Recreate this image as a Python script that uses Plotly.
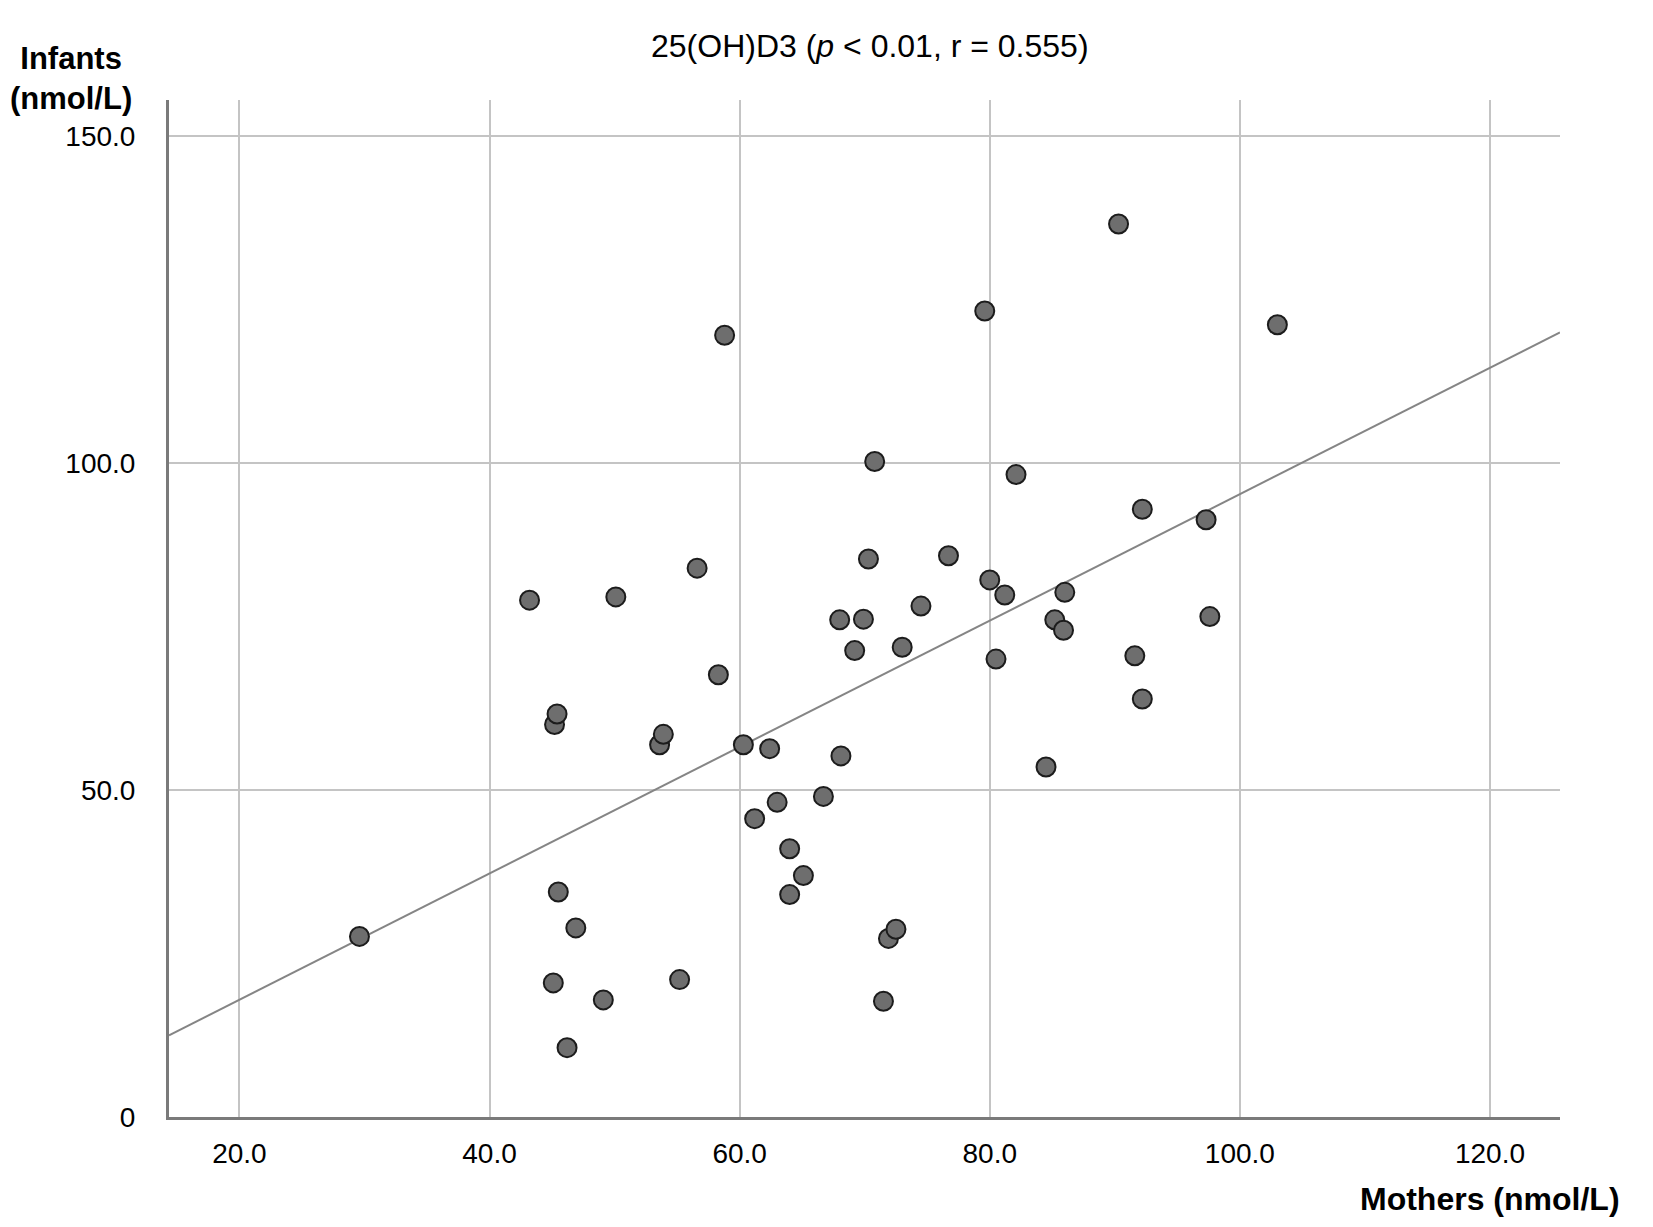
import plotly.graph_objects as go

# 25(OH)D3 values (nmol/L)
mothers = [29.6, 43.2, 45.2, 45.4, 45.5, 45.1, 46.2, 46.9, 49.1, 50.1,
           53.6, 53.9, 55.2, 56.6, 58.3, 58.8, 60.3, 61.2, 62.4, 63.0,
           64.0, 64.0, 65.1, 66.7, 68.0, 68.1, 69.2, 69.9, 70.3, 70.8,
           71.5, 71.9, 72.5, 73.0, 74.5, 76.7, 79.6, 80.0, 80.5, 81.2,
           82.1, 84.5, 85.2, 85.9, 86.0, 90.3, 91.6, 92.2, 92.2, 97.3,
           97.6, 103.0]
infants = [27.6, 79.0, 60.0, 61.6, 34.4, 20.5, 10.6, 28.9, 17.9, 79.5,
           56.9, 58.5, 21.0, 83.9, 67.6, 119.5, 56.9, 45.6, 56.3, 48.1,
           41.0, 34.0, 36.9, 49.0, 76.0, 55.2, 71.3, 76.1, 85.3, 100.2,
           17.7, 27.3, 28.7, 71.8, 78.1, 85.8, 123.2, 82.1, 70.0, 79.8,
           98.2, 53.5, 76.0, 74.4, 80.2, 136.5, 70.5, 92.9, 63.9, 91.3,
           76.5, 121.1]

# fit line as drawn in the picture
fit_intercept = -1.4
fit_slope = 0.966

x_ticks = [20, 40, 60, 80, 100, 120]
x_labels = ["20.0", "40.0", "60.0", "80.0", "100.0", "120.0"]
y_ticks = [0, 50, 100, 150]
y_labels = ["0", "50.0", "100.0", "150.0"]

x_range = [14.37, 125.6]
y_range = [0, 155.46]

FONT = "Liberation Sans, Arial, sans-serif"

fig = go.Figure()

fig.add_trace(go.Scatter(
    x=x_range,
    y=[fit_intercept + fit_slope * v for v in x_range],
    mode="lines",
    line=dict(color="#858585", width=2),
    hoverinfo="skip",
))

fig.add_trace(go.Scatter(
    x=mothers,
    y=infants,
    mode="markers",
    marker=dict(size=19, color="#6e6e6e", line=dict(color="#1c1c1c", width=2)),
))

fig.update_xaxes(
    range=x_range,
    tickvals=x_ticks,
    ticktext=x_labels,
    showgrid=True,
    gridcolor="#c4c4c4",
    gridwidth=2,
    zeroline=False,
    showline=True,
    linecolor="#7a7a7a",
    linewidth=3,
    ticks="",
    ticklabelstandoff=9,
    tickfont=dict(family=FONT, size=28, color="black"),
)
fig.update_yaxes(
    range=y_range,
    tickvals=y_ticks,
    ticktext=y_labels,
    showgrid=True,
    gridcolor="#c4c4c4",
    gridwidth=2,
    zeroline=False,
    showline=True,
    linecolor="#7a7a7a",
    linewidth=3,
    ticks="",
    ticklabelstandoff=25,
    tickfont=dict(family=FONT, size=28, color="black"),
)

# plot area in pixels (page body adds 8px offset): left, right, top, bottom
L, R, T, B = 161, 1552, 92, 1109


def px(x, y):
    return (x - L) / (R - L), (B - y) / (B - T)


tx, ty = px(862, 38)
ix, iy = px(63, 70)
mx, my = px(1614, 1191)

fig.update_layout(
    width=1653,
    height=1227,
    margin=dict(l=L, r=1653 - R, t=T, b=1227 - B),
    plot_bgcolor="white",
    paper_bgcolor="white",
    showlegend=False,
    font=dict(family=FONT, color="black"),
    annotations=[
        dict(text="25(OH)D3 (<i>p</i> < 0.01, r = 0.555)", x=tx, y=ty,
             xref="paper", yref="paper", xanchor="center", yanchor="middle",
             showarrow=False, font=dict(size=32)),
        dict(text="<b>Infants</b><br><b>(nmol/L)</b>", x=ix, y=iy,
             xref="paper", yref="paper", xanchor="center", yanchor="middle",
             align="center", showarrow=False, font=dict(size=31)),
        dict(text="<b>Mothers (nmol/L)</b>", x=mx, y=my,
             xref="paper", yref="paper", xanchor="right", yanchor="middle",
             showarrow=False, font=dict(size=32)),
    ],
)

fig.write_html("out.html")
